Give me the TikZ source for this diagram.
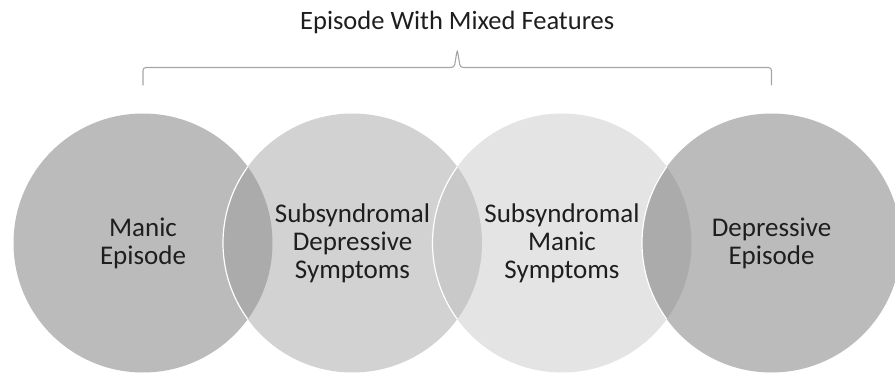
\documentclass[tikz,border=0pt]{standalone}
\usepackage{fontspec}
\setmainfont{Carlito}
\usetikzlibrary{positioning,calc}
\definecolor{darkcirc}{HTML}{BBBBBB}
\definecolor{midcirc}{HTML}{D2D2D2}
\definecolor{lightcirc}{HTML}{E4E4E4}
\definecolor{overdark}{HTML}{ABABAB}
\definecolor{overmid}{HTML}{C9C9C9}
\definecolor{bracegray}{HTML}{A6A6A6}
\definecolor{labeltext}{HTML}{1E1E1E}

\begin{document}
\begin{tikzpicture}[x=1pt, y=1pt,
  every node/.style={font=\fontsize{27}{28}\selectfont, text=labeltext},
  venn/.style={circle, minimum size=259pt, inner sep=0pt, outer sep=0pt,
               align=center},
  bracket/.style={draw=bracegray, line width=1.1pt, rounded corners=3pt},
  rim/.style={draw=white, line width=1.2pt},
]
\useasboundingbox (0,0) rectangle (895,373);

\node[venn, fill=darkcirc] (manic) at (143,130) {Manic\\Episode};
\node[venn, fill=midcirc, right=-49.5pt of manic] (subdep)
  {Subsyndromal\\Depressive\\Symptoms};
\node[venn, fill=lightcirc, right=-49.5pt of subdep] (subman)
  {Subsyndromal\\Manic\\Symptoms};
\node[venn, fill=darkcirc, right=-49.5pt of subman] (depr)
  {Depressive\\Episode};

% overlaps, with a white rim on the circle that lies on top
\foreach \a/\b/\col in {manic/subdep/overdark, subdep/subman/overmid,
                         subman/depr/overdark}{
  \begin{scope}
    \clip (\a.center) circle (129.5pt);
    \fill[\col] (\b.center) circle (129.5pt);
    \draw[rim] (\b.center) circle (129.5pt);
  \end{scope}
}

% brace over the four circles
\coordinate (bl) at ([yshift=28pt]manic.north);
\coordinate (br) at ([yshift=28pt]depr.north);
\coordinate (tip) at ($(bl)!0.5!(br)+(0,36)$);
\draw[bracket] (bl) -- ++(0,18) -- ($(tip)+(-3,-18)$) -- (tip)
  -- ($(tip)+(3,-18)$) -- ($(br)+(0,18)$) -- (br);

\node[anchor=base, font=\fontsize{26.5}{30}\selectfont] (title)
  at ([yshift=19.5pt]tip) {Episode With Mixed Features};

\end{tikzpicture}
\end{document}
